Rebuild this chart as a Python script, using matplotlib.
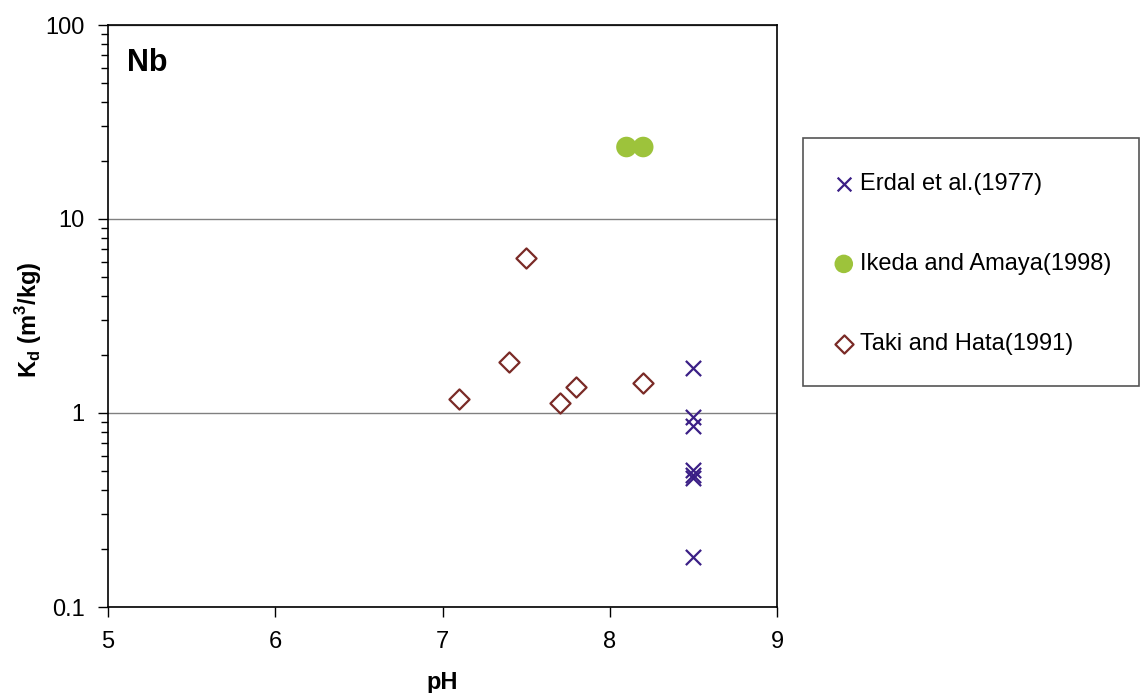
import numpy as np
import matplotlib.pyplot as plt
from matplotlib.patches import Rectangle
from matplotlib.ticker import LogLocator, NullFormatter, FixedLocator, FixedFormatter

plt.rcParams['font.family'] = ['Liberation Sans', 'DejaVu Sans']
plt.rcParams['mathtext.fontset'] = 'custom'
plt.rcParams['mathtext.rm'] = 'Liberation Sans:bold'
plt.rcParams['mathtext.bf'] = 'Liberation Sans:bold'

# Erdal et al. (1977)
erdal_ph = [8.5, 8.5, 8.5, 8.5, 8.5, 8.5, 8.5]
erdal_kd = [1.70, 0.95, 0.86, 0.51, 0.48, 0.46, 0.18]

# Ikeda and Amaya (1998)
ikeda_ph = [8.1, 8.2]
ikeda_kd = [23.5, 23.5]

# Taki and Hata (1991)
taki_ph = [7.1, 7.4, 7.5, 7.7, 7.8, 8.2]
taki_kd = [1.18, 1.84, 6.3, 1.13, 1.36, 1.43]

y_ticks = [0.1, 1, 10, 100]
y_labels = ['0.1', '1', '10', '100']

fig = plt.figure(figsize=(11.4, 6.93), dpi=100)
ax = fig.add_axes([108/1140, 1 - 607/693, (777 - 108)/1140, (607 - 25)/693])

ax.scatter(erdal_ph, erdal_kd, marker='x', s=120, color='#3b1f86', linewidths=1.6,
           label='Erdal et al.(1977)', zorder=3)
ax.scatter(ikeda_ph, ikeda_kd, marker='o', s=220, color='#9dc33b', edgecolors='none',
           label='Ikeda and Amaya(1998)', zorder=3)
ax.scatter(taki_ph, taki_kd, marker='D', s=105, facecolors='white', edgecolors='#7a2a26',
           linewidths=1.6, label='Taki and Hata(1991)', zorder=3)

ax.set_yscale('log')
ax.set_xlim(5, 9)
ax.set_ylim(0.1, 100)
ax.set_xticks([5, 6, 7, 8, 9])
ax.yaxis.set_major_locator(FixedLocator(y_ticks))
ax.yaxis.set_major_formatter(FixedFormatter(y_labels))
ax.yaxis.set_minor_locator(LogLocator(base=10, subs=np.arange(2, 10)))
ax.yaxis.set_minor_formatter(NullFormatter())
ax.tick_params(axis='both', which='major', direction='out', length=7, width=1,
               labelsize=17)
ax.tick_params(axis='x', which='major', pad=10)
ax.tick_params(axis='y', which='major', pad=10)
ax.tick_params(axis='y', which='minor', direction='out', length=5, width=1)
ax.grid(axis='y', which='major', color='#808080', linewidth=1)
ax.set_axisbelow(True)
for s in ax.spines.values():
    s.set_linewidth(1.2)

ax.set_xlabel('pH', fontsize=17, fontweight='bold', labelpad=13)
ax.set_ylabel(r'K$_{\mathrm{d}}$ (m$^{\mathrm{3}}$/kg)', fontsize=17, fontweight='bold')
ax.yaxis.set_label_coords((44 - 108)/669, (607 - 320)/582)
ax.text(0.028, 0.935, 'Nb', transform=ax.transAxes, fontsize=22, fontweight='bold',
        va='center', ha='left')

fig.patches.append(Rectangle((803/1140, 1 - 386/693), (1139 - 803)/1140, (386 - 138)/693,
                             transform=fig.transFigure, facecolor='white',
                             edgecolor='#555555', linewidth=1.2, zorder=0))
fig.legend(loc='upper left', bbox_to_anchor=(806/1140, 1 - 152/693), frameon=False,
           fontsize=17, labelspacing=2.45, handletextpad=0.0, handlelength=1.4,
           markerscale=0.9)

fig.savefig('out.png', dpi=100)
